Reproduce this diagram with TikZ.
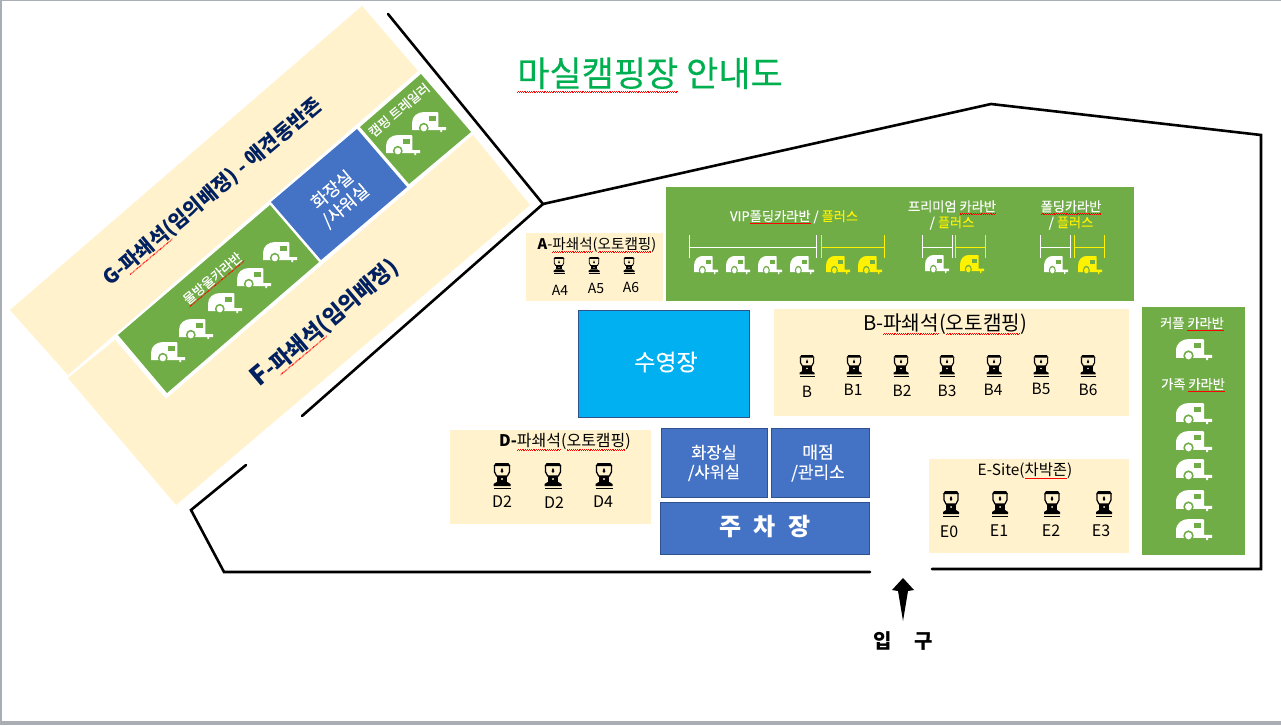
\documentclass[tikz,border=0pt]{standalone}
\usepackage{fontspec}
\setmainfont{Noto Sans CJK KR}
\newfontfamily\fb[FakeBold=0.25]{Noto Sans CJK KR}
\definecolor{gr}{HTML}{70AD47}
\definecolor{cream}{HTML}{FFF2CC}
\definecolor{bl}{HTML}{4472C4}
\definecolor{blb}{HTML}{2F528F}
\definecolor{navy}{HTML}{002060}
\definecolor{sky}{HTML}{00B0F0}
\definecolor{titlegreen}{HTML}{00B050}
\definecolor{frame}{HTML}{A9AEB5}
\newsavebox\sqbox
\newcommand\sq[1]{\leavevmode\sbox\sqbox{#1}\rlap{\lower.16em\hbox to\wd\sqbox{\color{red}\xleaders\hbox{\rule[-.8pt]{.9pt}{.6pt}\rule[-.2pt]{.9pt}{.6pt}}\hfill}}\usebox\sqbox}
\newcommand\caravan[6]{%
 \begin{scope}[shift={(#1,#2)},xscale=#3/36,yscale=#4/20]
  \fill[#5] (0,18)--(0,11).. controls (0,4) and (6,0) .. (13,0)--(27,0)--(28,1)--(28,15)--(36,15)--(36,18)--(32,18)--(32,20)--(30,20)--(30,18)--cycle;
  \fill[#6] (18,4) rectangle (25,9);
  \fill[#6] (12.5,16) circle (5.2);
  \fill[#5] (12.5,16) circle (3.4);
 \end{scope}}
\newcommand\lantern[4]{%
 \begin{scope}[shift={(#1,#2)},xscale=#3/16,yscale=#4/26]
  \fill[black] (-6,0)--(6,0)--(8,3)--(-8,3)--cycle;
  \draw[black,line width={#3/16*1.2pt}] (-7,3)--(-7,9)--(-5,13)--(5,13)--(7,9)--(7,3);
  \fill[black] (0,5) .. controls (1.8,7.5) and (1.5,10) .. (0,10) .. controls (-1.5,10) and (-1.8,7.5) .. (0,5);
  \fill[black] (-5,13) rectangle (5,19);
  \fill[cream] (0,16) circle (1);
  \fill[black] (-5,19)--(5,19)--(8,21)--(8,23)--(-8,23)--(-8,21)--cycle;
  \fill[black] (-8,24.5) rectangle (8,26);
 \end{scope}}
\newcommand\brk[3]{%
 \draw[#3,line width=.9pt] (#1,235)--(#1,258) (#1,247)--(#2,247) (#2,235)--(#2,258);}
\tikzset{
 x=1pt,y=-1pt,
 txt/.style={inner sep=0pt,align=center,font=\fontsize{#1}{#1}\selectfont},
 wall/.style={line width=2.6pt,black,line cap=round,line join=miter},
 bluebox/.style={fill=bl,draw=blb,line width=1pt},
}
\begin{document}
\begin{tikzpicture}
\useasboundingbox (0,0) rectangle (1281,725);
\fill[frame] (0,0) rectangle (1281,725);
\fill[white] (2,1) rectangle (1281,721);
% diagonal zones
\fill[cream] (362,6)--(418,71)--(68,375)--(10,310)--cycle;
\fill[cream] (68,378)--(115,340)--(166,399)--(473,135)--(530,205)--(176,505)--cycle;
\fill[gr] (421,74)--(471,132)--(409,184)--(360,127)--cycle;
\fill[bl] (357,129)--(407,187)--(321,260)--(271,202)--cycle;
\fill[gr] (270,205)--(319,262)--(167,393)--(118,335)--cycle;
% walls
\draw[wall] (388,14)--(543,204)--(991,104)--(1261,135)--(1261,569)--(932,569);
\draw[wall] (543,204)--(302,416);
\draw[wall] (246,465)--(191,510)--(224,572)--(870,572);
% rectangles
\fill[cream] (526,233) rectangle (663,301);
\fill[gr] (666,187) rectangle (1134,301);
\fill[cream] (774,309) rectangle (1129,416);
\fill[cream] (450,430) rectangle (651,524);
\fill[cream] (929,459) rectangle (1129,553);
\fill[gr] (1142,307) rectangle (1245,555);
\draw[fill=sky,draw=blb,line width=.8pt] (578,310) rectangle (749.5,417);
\draw[bluebox] (661,428) rectangle (767.5,497);
\draw[bluebox] (771,428) rectangle (869.5,497);
\draw[bluebox] (660,502) rectangle (869.5,554);
% arrow
\fill[black] (903,578)--(914,590)--(908,591)--(903,621)--(898,591)--(892,590)--cycle;
% title
\node[txt=35,text=titlegreen] (title) at (650,75) {\fb\sq{마실캠핑장} 안내도};
\node[txt=20,font=\fontsize{20}{24}\selectfont\bfseries] (gate) at (903,641) {입\hspace{1.1em}구};
% diagonal texts
\node[txt=20.2,text=navy,rotate=40,font=\fontsize{20.2}{25}\selectfont\bfseries] (gt) at (213,192) {G-\sq{파쇄석}(임의배정) - 애견동반존};
\node[txt=22,text=navy,rotate=40,font=\fontsize{22}{25}\selectfont\bfseries] (ft) at (325,323) {{\fontsize{26}{26}\selectfont F}-\sq{파쇄석}(임의배정)};
\node[txt=13,text=white,rotate=40] (wt) at (213,279) {\fb\sq{물방울카라반}};
\node[txt=13,text=white,rotate=40] (tt) at (399,110) {\fb 캠핑 트레일러};
\node[txt=17.5,text=white,rotate=40] (sh) at (339,198) {\fb 화장실\\[3pt]\fb /샤워실};
% diagonal caravans
\caravan{151}{342}{34}{20}{white}{gr}
\caravan{179}{319}{34}{20}{white}{gr}
\caravan{208}{293}{34}{20}{white}{gr}
\caravan{237}{268}{34}{20}{white}{gr}
\caravan{263}{242}{34}{20}{white}{gr}
\caravan{386}{135}{34}{20}{white}{gr}
\caravan{412}{112}{34}{20}{white}{gr}
% top green row
\node[txt=13.2,text=white] (vip) at (794,217) {\fb VIP\sq{폴딩카라반} / \textcolor{yellow}{플러스}};
\node[txt=13.2,text=white] (pre) at (952,215) {\fb 프리미엄 \sq{카라반}\\[1pt]\fb / \textcolor{yellow}{플러스}};
\node[txt=13.2,text=white] (fol) at (1071,215) {\fb\sq{폴딩카라반}\\[1pt]\fb / \textcolor{yellow}{플러스}};
\brk{689}{816}{white}\brk{821}{884}{yellow}
\brk{922}{952}{white}\brk{955}{985}{yellow}
\brk{1040}{1070}{white}\brk{1074}{1104}{yellow}
\foreach \x in {694,726,758,790}{\caravan{\x}{256}{24}{18}{white}{gr}}
\foreach \x in {826,858}{\caravan{\x}{256}{24}{18}{yellow}{gr}}
\caravan{925}{255}{24}{18}{white}{gr}
\caravan{960}{255}{24}{18}{yellow}{gr}
\caravan{1044}{256}{24}{18}{white}{gr}
\caravan{1078}{256}{24}{18}{yellow}{gr}
% A
\node[txt=14.6] (at) at (597,245) {{\bfseries A}-\sq{파쇄석}(\sq{오토캠핑})};
\lantern{559}{257}{11}{17}\lantern{594}{257}{11}{17}\lantern{629}{257}{11}{17}
\node[txt=14] (a4) at (560,290) {A4};
\node[txt=14] (a5) at (596,288) {A5};
\node[txt=14] (a6) at (631,287) {A6};
% B
\node[txt=20.2] (bt) at (945,324) {B-\sq{파쇄석}(\sq{오토캠핑})};
\foreach \x in {807,854,901,947,994,1041,1088}{\lantern{\x}{355}{15}{22}}
\node[txt=15.5] (b0) at (807,392) {B};
\node[txt=15.5] (b1) at (853,390) {B1};
\node[txt=15.5] (b2) at (902,391) {B2};
\node[txt=15.5] (b3) at (947,391) {B3};
\node[txt=15.5] (b4) at (993,390) {B4};
\node[txt=15.5] (b5) at (1041,389) {B5};
\node[txt=15.5] (b6) at (1088,390) {B6};
% D
\node[txt=16] (dt) at (565,442) {{\bfseries D-}\sq{파쇄석}(\sq{오토캠핑})};
\foreach \x in {502,553,604}{\lantern{\x}{463}{17}{26}}
\node[txt=16] (d1) at (502,502) {D2};
\node[txt=16] (d2) at (554,503) {D2};
\node[txt=16] (d3) at (603,502) {D4};
% E
\node[txt=15.4] (et) at (1025,471) {E-Site(\sq{차박존})};
\foreach \x in {951,1000,1052,1104}{\lantern{\x}{491}{16}{26}}
\node[txt=16] (e0) at (949,532) {E0};
\node[txt=16] (e1) at (999,531) {E1};
\node[txt=16] (e2) at (1051,531) {E2};
\node[txt=16] (e3) at (1101,531) {E3};
% boxes
\node[txt=23,text=white] (pool) at (666,362) {\fb 수영장};
\node[txt=16.5,text=white] (wc) at (714,463) {\fb 화장실\\[3pt]\fb /샤워실};
\node[txt=17,text=white] (shop) at (818,463) {\fb 매점\\[3pt]\fb /관리소};
\node[txt=24,text=white,font=\fontsize{24}{26}\selectfont\bfseries] (park) at (765,527) {주\hspace{.5em}차\hspace{.5em}장};
% right column
\node[txt=13.2,text=white] (cp) at (1192,324) {\fb 커플 \sq{카라반}};
\node[txt=13.2,text=white] (fa) at (1193,385) {\fb 가족 \sq{카라반}};
\foreach \y in {339,403,431,459,490,519}{\caravan{1176}{\y}{36}{21}{white}{gr}}
\end{tikzpicture}
\end{document}
